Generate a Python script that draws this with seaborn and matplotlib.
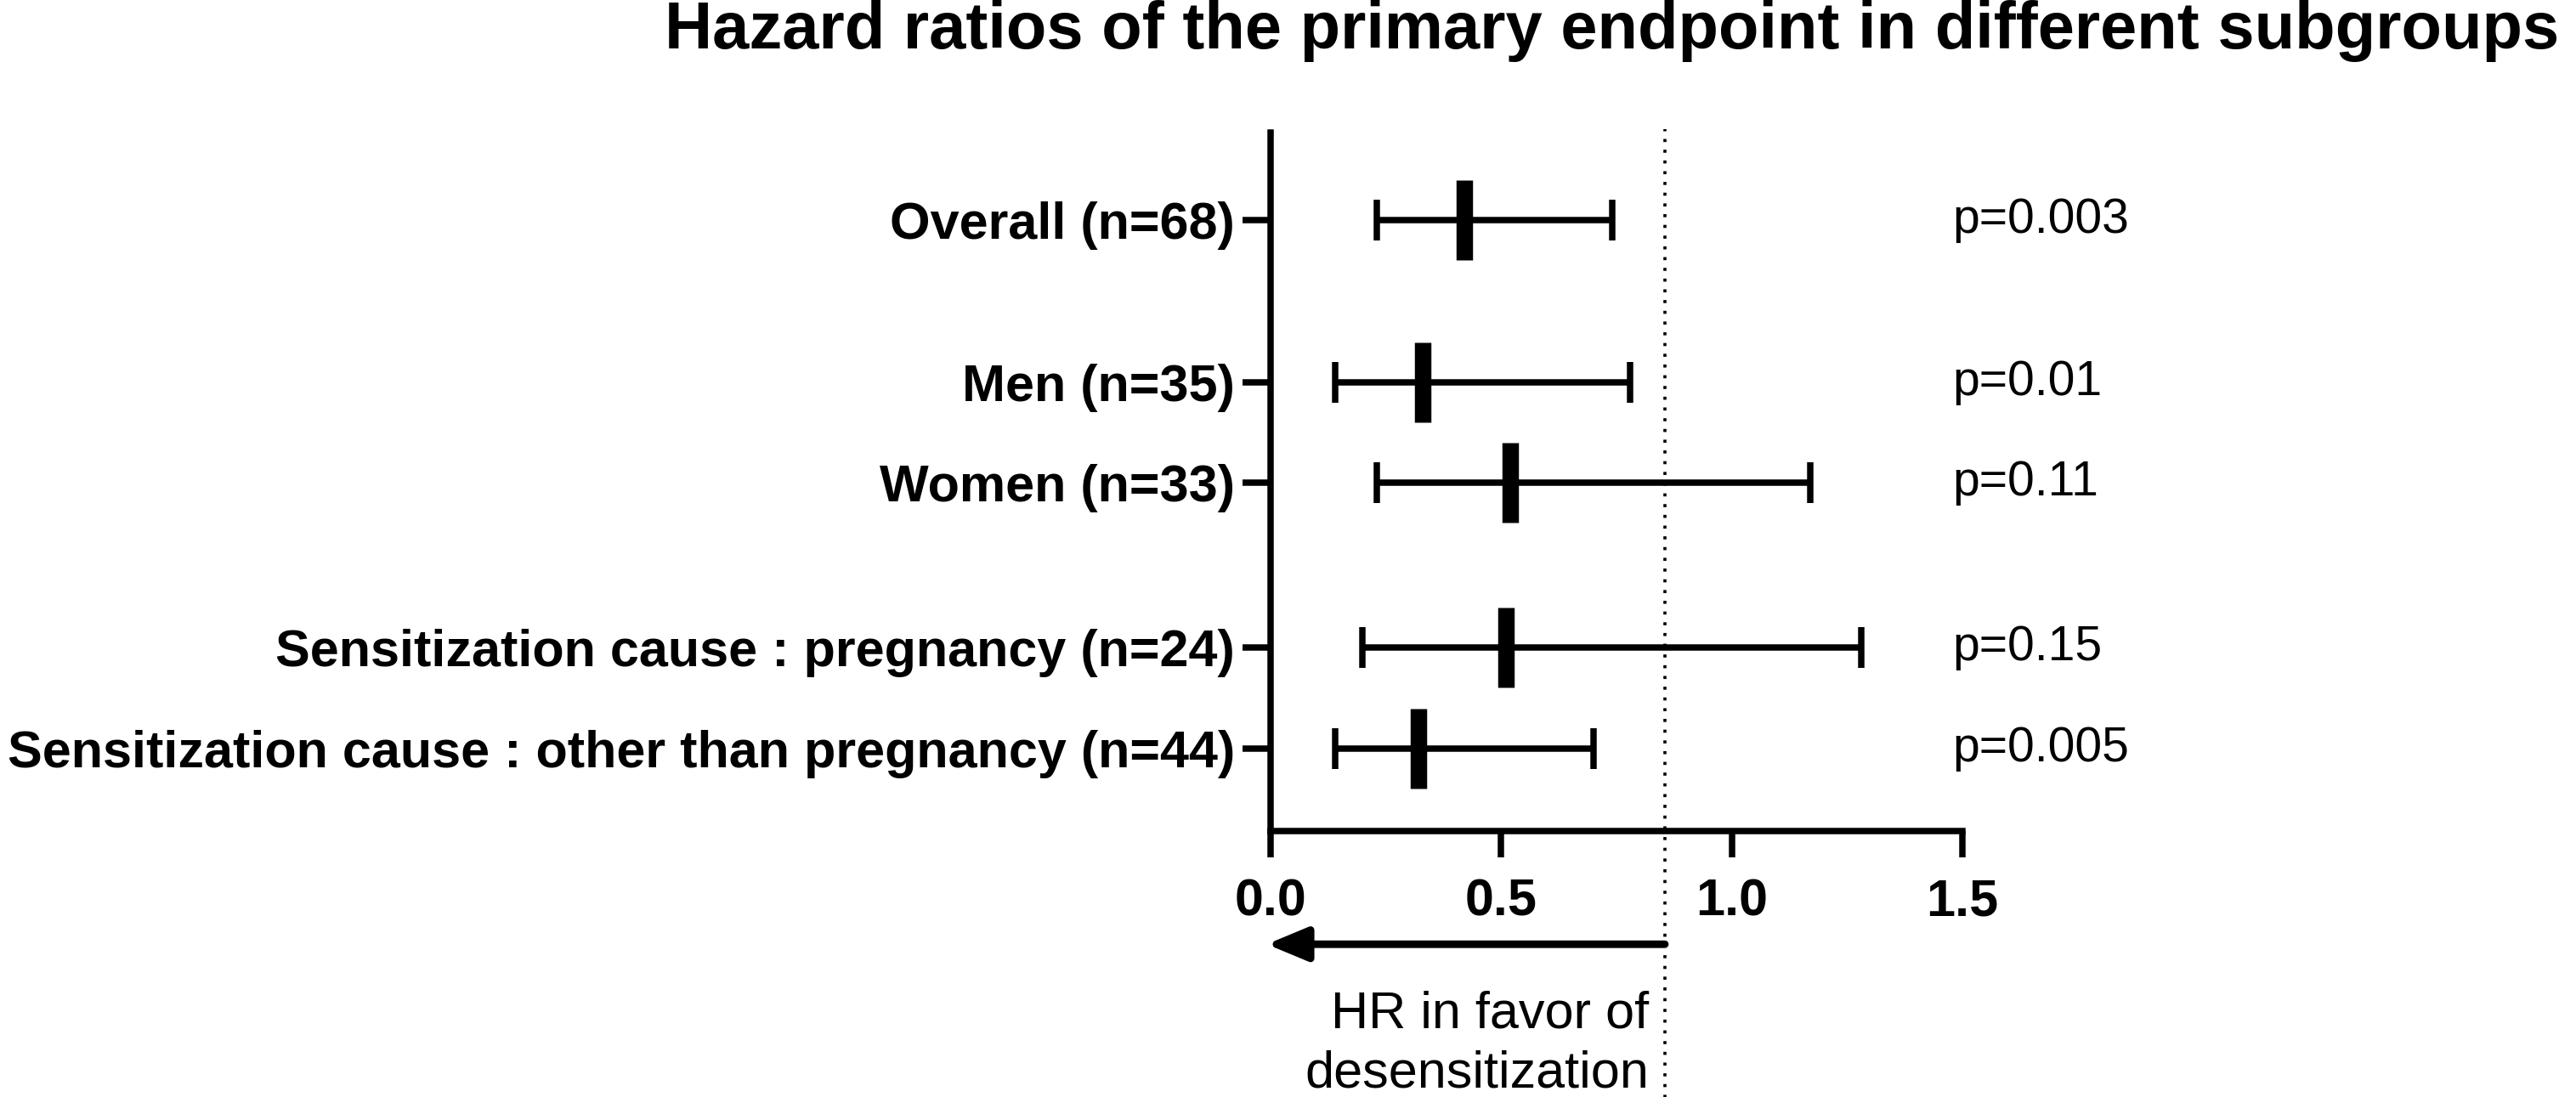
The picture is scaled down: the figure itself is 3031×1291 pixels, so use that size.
import matplotlib
matplotlib.use('Agg')
import matplotlib.pyplot as plt
import numpy as np
import seaborn as sns

# subgroups, hazard ratios with 95% CI, p values
subgroups = ['Overall (n=68)', 'Men (n=35)', 'Women (n=33)',
             'Sensitization cause : pregnancy (n=24)',
             'Sensitization cause : other than pregnancy (n=44)']
hr = np.array([0.42, 0.33, 0.52, 0.51, 0.32])
ci_low = np.array([0.23, 0.14, 0.23, 0.20, 0.14])
ci_high = np.array([0.74, 0.78, 1.17, 1.28, 0.70])
pvals = ['p=0.003', 'p=0.01', 'p=0.11', 'p=0.15', 'p=0.005']
xticks = [0.0, 0.5, 1.0, 1.5]
ref_line = 0.855

# row layout (groups separated by a gap)
row_pos = [0, 1.61, 2.61, 4.25, 5.25]

sns.set_theme(style='ticks')
plt.rcParams['font.family'] = ['Liberation Sans', 'DejaVu Sans']
for k in ['text.color', 'axes.labelcolor', 'xtick.color', 'ytick.color', 'axes.edgecolor']:
    plt.rcParams[k] = 'black'

fig = plt.figure(figsize=(3031 / 200, 1291 / 200), dpi=200)
ax = fig.add_axes([0.4932, 0.2424, 0.2686, 0.6367])

lw = 2.7
ax.errorbar(hr, row_pos, xerr=[hr - ci_low, ci_high - hr], fmt='none',
            ecolor='black', elinewidth=lw, capsize=8.5, capthick=lw, zorder=3)
sns.scatterplot(x=hr, y=row_pos, marker='|', s=34 ** 2, linewidth=7,
                color='black', ax=ax, zorder=4, legend=False)

ax.set_xlim(0, 1.5)
ax.set_ylim(6.07, -0.87)
ax.set_xticks(xticks, labels=[f'{t:.1f}' for t in xticks])
ax.set_yticks(row_pos, labels=subgroups)
for lab in ax.get_xticklabels() + ax.get_yticklabels():
    lab.set_fontweight('bold')
ax.tick_params(axis='x', length=11, width=lw, pad=9, labelsize=22, colors='black')
ax.tick_params(axis='y', length=12, width=lw, pad=3, labelsize=22, colors='black')
sns.despine(ax=ax)
for s in ['left', 'bottom']:
    ax.spines[s].set_linewidth(lw)
    ax.spines[s].set_color('black')
ax.set_xlabel('')
ax.set_ylabel('')
ax.grid(False)

# reference line
ax.axvline(ref_line, ymin=-0.42, ymax=1.005, clip_on=False, color='black',
           lw=1.3, linestyle=(0, (1, 2.5)))

# p values
for y, p in zip(row_pos, pvals):
    ax.text(1.478, y, p, ha='left', va='center', fontsize=20.5, color='black')

# arrow and direction label
trans = ax.get_xaxis_transform()
ax.annotate('', xy=(-0.008, -0.162), xytext=(ref_line, -0.162),
            xycoords=trans, textcoords=trans, annotation_clip=False,
            arrowprops=dict(arrowstyle='-|>,head_length=0.72,head_width=0.3',
                            mutation_scale=20, lw=3.2, color='black',
                            shrinkA=0, shrinkB=0))
ax.text(0.82, -0.282, 'HR in favor of', transform=trans, ha='right',
        va='baseline', fontsize=22, color='black', clip_on=False)
ax.text(0.82, -0.367, 'desensitization', transform=trans, ha='right',
        va='baseline', fontsize=22, color='black', clip_on=False)

fig.text(0.6256, 1 - 57 / 1291,
         'Hazard ratios of the primary endpoint in different subgroups',
         ha='center', va='baseline', fontsize=28, fontweight='bold', color='black')

fig.savefig('out.png', dpi=200, facecolor='white')
